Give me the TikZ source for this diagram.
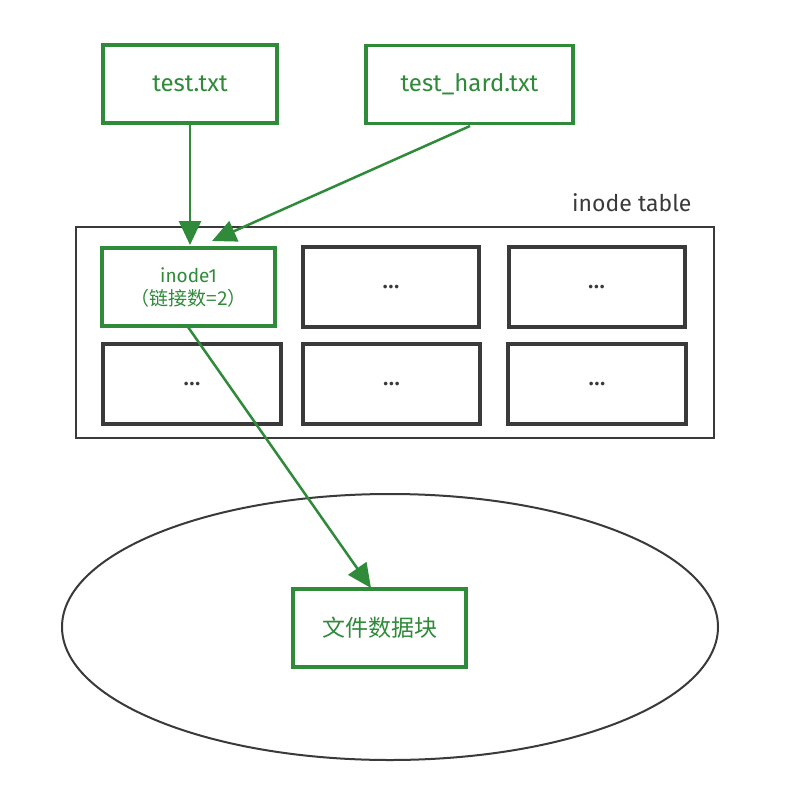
\documentclass[tikz,border=0pt]{standalone}
\usepackage{fontspec}
\setmainfont{Fira Sans}
\newfontfamily\cjk{Noto Sans CJK SC}
\usetikzlibrary{arrows.meta}
\definecolor{grn}{HTML}{2F8A3A}
\definecolor{drk}{HTML}{3A3A3A}
\tikzset{
  gbox/.style={draw=grn, line width=3.5pt, text=grn, minimum width=#1, minimum height=78pt, inner sep=0pt, align=center},
  gbox/.default=174pt,
  cell/.style={draw=drk, line width=4pt, text=drk, minimum width=176pt, minimum height=80pt, inner sep=0pt, font=\fontsize{20}{20}\selectfont\bfseries},
  garrow/.style={draw=grn, line width=2.5pt, -{Triangle[length=24pt,width=22pt]}},
}
\begin{document}
\begin{tikzpicture}[x=1pt,y=-1pt]
\useasboundingbox (0,0) rectangle (784,792);
\fill[white] (0,0) rectangle (784,792);
% ellipse
\draw[drk, line width=2pt] (390,627) ellipse [x radius=328, y radius=133];
% inode table
\draw[drk, line width=2pt] (76,227) rectangle (714,438);
\node[text=drk, font=\fontsize{23}{23}\selectfont, anchor=east] (lbl) at (695,203) {inode table};
% file boxes
\node[gbox=174pt, font=\fontsize{24}{24}\selectfont] (t1) at (190,84) {test.txt};
\node[gbox=207pt, font=\fontsize{24}{24}\selectfont] (t2) at (469.5,84.5) {test\_hard.txt};
% cells
\node[gbox=173pt, font=\fontsize{19}{23}\selectfont] (i1) at (188.5,287) {inode1\\{\cjk （链接数=2）}};
\node[cell] (c12) at (391,287) {.\kern1pt.\kern1pt.};
\node[cell] (c13) at (596.5,287) {.\kern1pt.\kern1pt.};
\node[cell, minimum width=178pt] (c21) at (192,384) {.\kern1pt.\kern1pt.};
\node[cell, minimum width=177pt] (c22) at (391.5,384) {.\kern1pt.\kern1pt.};
\node[cell, minimum width=178pt] (c23) at (597,384) {.\kern1pt.\kern1pt.};
% data block
\node[gbox=173pt, font=\cjk\fontsize{23}{23}\selectfont] (d) at (379.5,628) {文件数据块};
% arrows
\coordinate (a1) at (190,245);
\coordinate (a2) at (212,241);
\coordinate (s2) at (470,126);
\coordinate (a3) at (371,588);
\coordinate (s3) at (188,327);
\draw[garrow] (t1.south) -- (a1);
\draw[garrow] (s2) -- (a2);
\draw[garrow] (s3) -- (a3);
\end{tikzpicture}
\end{document}
